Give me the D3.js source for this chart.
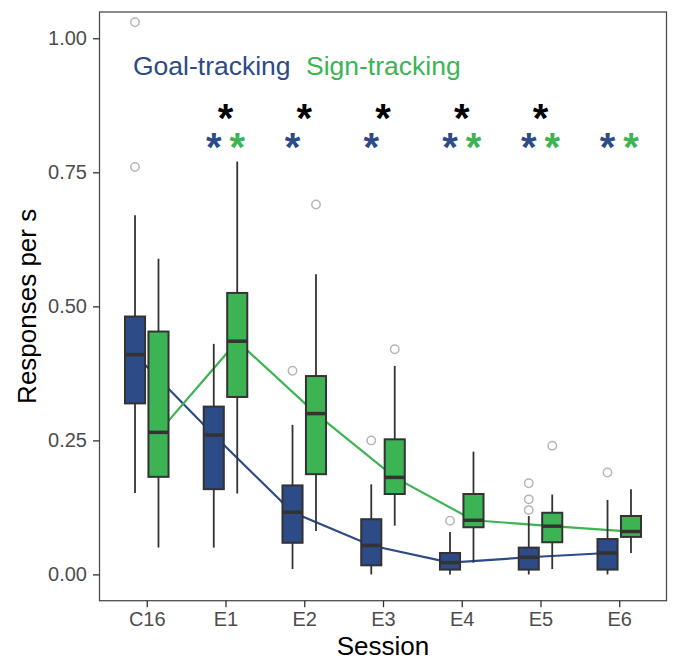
<!DOCTYPE html>
<html><head><meta charset="utf-8">
<script src="https://cdn.jsdelivr.net/npm/d3@7"></script>
<style>body{margin:0;background:#fff}svg{display:block}text{font-family:"Liberation Sans",Arial,sans-serif}</style>
</head><body><svg id="c" width="676" height="661"></svg>
<script>
const sessions = ["C16","E1","E2","E3","E4","E5","E6"];
const yTicks = [0, 0.25, 0.5, 0.75, 1.0];
const yTickLabels = ["0.00","0.25","0.50","0.75","1.00"];
const groups = ["Goal-tracking","Sign-tracking"];

const goalLo  = [0.152, 0.050, 0.010, 0.000, 0.000, 0.000, 0.000];
const goalQ1  = [0.319, 0.159, 0.059, 0.017, 0.009, 0.009, 0.009];
const goalMed = [0.410, 0.260, 0.116, 0.054, 0.022, 0.032, 0.040];
const goalQ3  = [0.481, 0.313, 0.166, 0.103, 0.040, 0.050, 0.066];
const goalHi  = [0.670, 0.430, 0.279, 0.168, 0.079, 0.109, 0.139];
const goalOut = [[0.76,1.03],[],[0.38],[0.25],[0.10],[0.12,0.14,0.17],[0.19]];

const signLo  = [0.050, 0.151, 0.081, 0.091, 0.022, 0.010, 0.040];
const signQ1  = [0.182, 0.331, 0.187, 0.150, 0.088, 0.060, 0.070];
const signMed = [0.265, 0.435, 0.300, 0.181, 0.101, 0.090, 0.080];
const signQ3  = [0.453, 0.525, 0.370, 0.252, 0.150, 0.115, 0.109];
const signHi  = [0.589, 0.770, 0.560, 0.389, 0.229, 0.149, 0.159];
const signOut = [[],[],[0.69],[0.42],[],[0.24],[]];

const sigBetween = ["E1","E2","E3","E4","E5"];
const sigGoal = ["E1","E2","E3","E4","E5","E6"];
const sigSign = ["E1","E4","E5","E6"];

const colors = {"Goal-tracking":"#2c4b87","Sign-tracking":"#3cb454"};
const dark = "#333333";

const svg = d3.select("#c");
const P = {l:99.5, r:666.5, t:12, b:600.7};
const x = d3.scalePoint().domain(sessions).range([P.l, P.r]).padding(0.6);
const y = d3.scaleLinear().domain([-0.049, 1.049]).range([P.b, P.t]);
const step = x.step();
const off = step*0.149, bw = step*0.255;

function rows(lo,q1,med,q3,hi,out,g,sign){
  return sessions.map((s,i)=>({s,lo:lo[i],q1:q1[i],med:med[i],q3:q3[i],hi:hi[i],out:out[i],g,cx:x(s)+sign*off}));
}
const goal = rows(goalLo,goalQ1,goalMed,goalQ3,goalHi,goalOut,groups[0],-1);
const signT = rows(signLo,signQ1,signMed,signQ3,signHi,signOut,groups[1],1);

// lines (under boxes)
const line = d3.line().x(d=>d.cx).y(d=>y(d.med));
[goal, signT].forEach(data=>{
  svg.append("path").attr("d", line(data)).attr("fill","none")
    .attr("stroke", colors[data[0].g]).attr("stroke-width",2.2);
});

// boxes
[goal, signT].forEach(data=>{
  const g = svg.append("g");
  data.forEach(d=>{
    g.append("line").attr("x1",d.cx).attr("x2",d.cx).attr("y1",y(d.hi)).attr("y2",y(d.lo))
      .attr("stroke",dark).attr("stroke-width",1.8);
    g.append("rect").attr("x",d.cx-bw/2).attr("width",bw).attr("y",y(d.q3)).attr("height",y(d.q1)-y(d.q3))
      .attr("fill",colors[d.g]).attr("stroke",dark).attr("stroke-width",2);
    g.append("line").attr("x1",d.cx-bw/2).attr("x2",d.cx+bw/2).attr("y1",y(d.med)).attr("y2",y(d.med))
      .attr("stroke",dark).attr("stroke-width",3.5);
    d.out.forEach(o=>{
      g.append("circle").attr("cx",d.cx).attr("cy",y(o)).attr("r",4.2)
        .attr("fill","none").attr("stroke","#b5b5b5").attr("stroke-width",1.5);
    });
  });
});

// panel border
svg.append("rect").attr("x",P.l).attr("y",P.t).attr("width",P.r-P.l).attr("height",P.b-P.t)
  .attr("fill","none").attr("stroke","#4d4d4d").attr("stroke-width",1.3);

// axes
const yAxis = d3.axisLeft(y).tickValues(yTicks).tickFormat((d,i)=>yTickLabels[i]).tickSize(6.5).tickPadding(6);
const ya = svg.append("g").attr("transform",`translate(${P.l},0)`).call(yAxis);
const xAxis = d3.axisBottom(x).tickSize(6.5).tickPadding(5);
const xa = svg.append("g").attr("transform",`translate(0,${P.b})`).call(xAxis);
[ya,xa].forEach(a=>{
  a.select(".domain").remove();
  a.selectAll(".tick line").attr("stroke",dark).attr("stroke-width",1.3);
  a.selectAll(".tick text").attr("fill","#4d4d4d").style("font-size","20px").style("font-family",'"Liberation Sans",Arial,sans-serif');
});

// axis titles
svg.append("text").attr("x",(P.l+P.r)/2).attr("y",655).attr("text-anchor","middle")
  .style("font-size","26px").attr("fill","#000").text("Session");
svg.append("text").attr("transform",`translate(36,${(P.t+P.b)/2}) rotate(-90)`).attr("text-anchor","middle")
  .style("font-size","26px").attr("fill","#000").text("Responses per s");

// legend labels
svg.append("text").attr("x",133).attr("y",75).style("font-size","26.5px").attr("fill",colors[groups[0]]).text(groups[0]);
svg.append("text").attr("x",306).attr("y",75).style("font-size","26.5px").attr("fill",colors[groups[1]]).text(groups[1]);

// significance asterisks
function star(cx, val, col){
  svg.append("text").attr("x",cx).attr("y",y(val)+21).attr("text-anchor","middle")
    .style("font-size","40px").style("font-weight","bold").attr("fill",col).text("*");
}
sigBetween.forEach(s=>star(x(s), 0.865, "#000"));
sigGoal.forEach(s=>star(x(s)-off, 0.81, colors[groups[0]]));
sigSign.forEach(s=>star(x(s)+off, 0.81, colors[groups[1]]));
</script></body></html>
